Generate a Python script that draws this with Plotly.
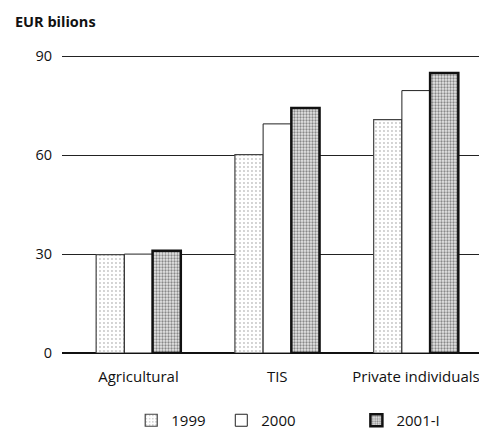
import plotly.graph_objects as go

# Outstanding amounts by borrower category, EUR billions
categories = ["Agricultural", "TIS", "Private individuals"]
series_names = ["1999", "2000", "2001-I"]
values_1999 = [29.8, 60.2, 70.8]
values_2000 = [30.0, 69.5, 79.6]
values_2001 = [31.0, 74.3, 84.9]
y_ticks = [0, 30, 60, 90]

FONT = "Open Sans"

styles = [
    dict(marker=dict(color="white",
                     line=dict(color="#444", width=1.2),
                     pattern=dict(shape=".", fgcolor="#8a8a8a", bgcolor="white",
                                  size=4, solidity=0.18))),
    dict(marker=dict(color="white", line=dict(color="#222", width=1.0))),
    dict(marker=dict(color="#9a9a9a",
                     line=dict(color="#111", width=2.5),
                     pattern=dict(shape=".", fgcolor="#2a2a2a", bgcolor="#e6e6e6",
                                  size=3, solidity=0.45))),
]
legend_ids = ["legend", "legend2", "legend3"]
legend_x = [0.166, 0.382, 0.706]

fig = go.Figure()
for name, vals, st, lid in zip(series_names, [values_1999, values_2000, values_2001],
                               styles, legend_ids):
    fig.add_trace(go.Bar(x=categories, y=vals, name=name, legend=lid, **st))

legend_common = dict(orientation="h", yanchor="middle", xanchor="left",
                     y=-0.225, xref="paper", yref="paper",
                     bgcolor="rgba(0,0,0,0)",
                     font=dict(family=FONT, size=15, color="#111"))
layout_legends = {}
for lid, lx in zip(legend_ids, legend_x):
    layout_legends[lid] = dict(x=lx, **legend_common)

fig.update_layout(
    width=479, height=437,
    margin=dict(l=62, r=0, t=53, b=84),
    paper_bgcolor="white", plot_bgcolor="white",
    barmode="group", bargap=0.39, bargroupgap=0,
    showlegend=True,
    title=dict(text="<b>EUR bilions</b>", xref="container", yref="container",
               x=15 / 479, y=1 - 22 / 437, xanchor="left", yanchor="middle",
               font=dict(family=FONT, size=14.5, color="#111")),
    font=dict(family=FONT, size=15, color="#111"),
    **layout_legends,
)

fig.update_xaxes(
    range=[-0.551, 2.454], showgrid=False, showline=False, zeroline=False,
    ticks="", ticklabelstandoff=13,
    tickfont=dict(family=FONT, size=15, color="#111"),
)
fig.update_yaxes(
    range=[0, 91], tickvals=y_ticks, showgrid=True, gridcolor="#222",
    gridwidth=1.3, zeroline=True, zerolinecolor="#111", zerolinewidth=1.6,
    showline=False, ticks="", ticklabelstandoff=9,
    tickfont=dict(family=FONT, size=14.5, color="#111"),
)

fig.write_html("out.html")
